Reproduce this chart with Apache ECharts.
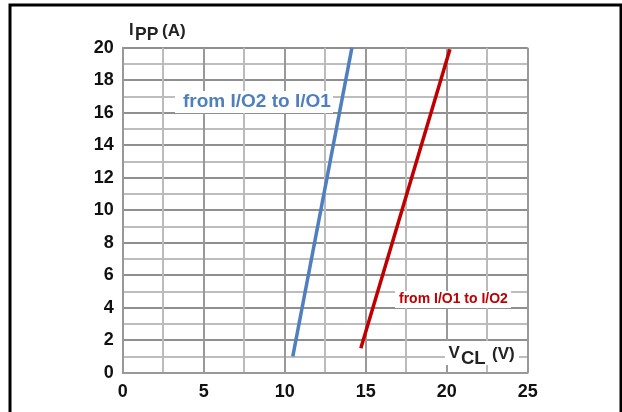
<!DOCTYPE html>
<html><head><meta charset="utf-8">
<script src="https://cdn.jsdelivr.net/npm/echarts@6/dist/echarts.min.js"></script>
<style>html,body{margin:0;padding:0;background:#fff}#c{width:622px;height:412px}</style>
</head><body><div id="c"></div>
<script>
// Data
var xTicks = [0, 5, 10, 15, 20, 25];
var yTicks = [0, 2, 4, 6, 8, 10, 12, 14, 16, 18, 20];
var seriesNames = ['from I/O2 to I/O1', 'from I/O1 to I/O2'];
var blueVcl = [10.5, 14.15];
var blueIpp = [1.0, 20.0];
var redVcl = [14.7, 20.2];
var redIpp = [1.5, 19.9];

function pairs(xs, ys){ return xs.map(function(x,i){ return [x, ys[i]]; }); }

var chart = echarts.init(document.getElementById('c'), null, {renderer:'canvas'});
var font = 'Liberation Sans, Arial, sans-serif';
function txt(t, l, tp, size, fill, z){
  return {type:'text', left:l, top:tp, z:z||50, style:{text:t, fontSize:size, fontWeight:'bold',
    fill:fill||'#222', fontFamily:font}};
}
chart.setOption({
  animation:false,
  backgroundColor:'#fff',
  grid:{left:122.7, top:47.7, right:94.3, bottom:39.3, containLabel:false},
  xAxis:{type:'value', min:0, max:25, interval:2.5,
    axisLine:{show:true, lineStyle:{color:'#999', width:2}},
    axisTick:{show:false},
    axisLabel:{margin:10, color:'#111', fontSize:18, fontWeight:'bold', fontFamily:font,
      formatter:function(v){ return xTicks.indexOf(v) >= 0 ? String(v) : ''; }},
    splitLine:{show:true, lineStyle:{color:['#999','#bbb'], width:2}}
  },
  yAxis:{type:'value', min:0, max:20, interval:1,
    axisLine:{show:true, lineStyle:{color:'#999', width:2}},
    axisTick:{show:false},
    axisLabel:{margin:9, color:'#111', fontSize:18, fontWeight:'bold', fontFamily:font,
      formatter:function(v){ return yTicks.indexOf(v) >= 0 ? String(v) : ''; }},
    splitLine:{show:true, lineStyle:{color:['#8f8f8f','#bdbdbd'], width:2}}
  },
  series:[
    {name:seriesNames[0], type:'line', data:pairs(blueVcl, blueIpp), symbol:'none',
      lineStyle:{color:'#4f7fbf', width:3.5}, z:5},
    {name:seriesNames[1], type:'line', data:pairs(redVcl, redIpp), symbol:'none',
      lineStyle:{color:'#c00000', width:3.5}, z:5}
  ],
  graphic:[
    {type:'rect', left:7.5, top:2.5, shape:{x:0,y:0,width:611,height:430},
      style:{fill:null, stroke:'#000', lineWidth:3}, z:100},
    txt('I', 129, 21.5, 16.5),
    txt('PP', 135, 26, 17.5),
    txt('(A)', 162, 22.5, 17),
    {type:'rect', left:175, top:91, z:20, shape:{width:158, height:22}, style:{fill:'#fff'}},
    txt(seriesNames[0], 183, 92, 19, '#4f7fbf', 21),
    {type:'rect', left:395, top:291, z:20, shape:{width:116, height:17}, style:{fill:'#fff'}},
    txt(seriesNames[1], 399, 292.5, 14, '#c00000', 21),
    {type:'rect', left:445, top:341, z:20, shape:{width:74, height:24}, style:{fill:'#fff'}},
    txt('V', 448.5, 345, 17, '#222', 21),
    txt('CL', 461, 349, 18.5, '#222', 21),
    txt('(V)', 492, 345.5, 17, '#222', 21)
  ]
});
</script></body></html>
